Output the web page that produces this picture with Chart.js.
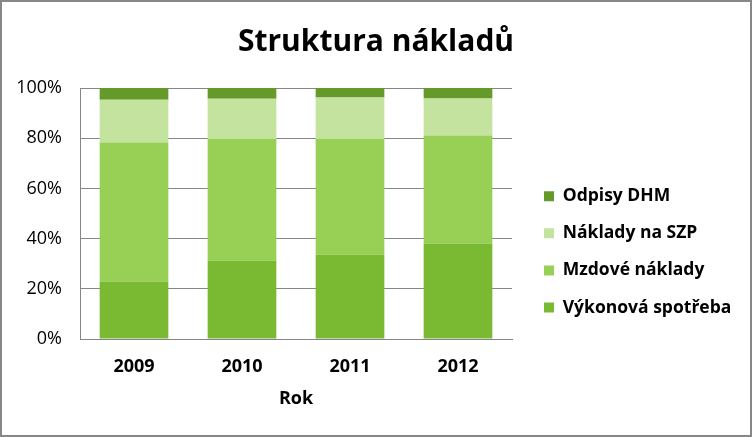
<!DOCTYPE html>
<html>
<head>
<meta charset="utf-8">
<script src="https://cdn.jsdelivr.net/npm/chart.js@4.4.1/dist/chart.umd.min.js"></script>
<style>
  html, body { margin: 0; padding: 0; background: #ffffff; }
  #wrap { width: 752px; height: 437px; }
</style>
</head>
<body>
<div id="wrap"><canvas id="c" width="752" height="437"></canvas></div>
<script>
// ---- data ----
const years = ['2009', '2010', '2011', '2012'];
const vykonovaSpotreba = [22.9, 31.2, 33.6, 38.0];
const mzdoveNaklady    = [55.4, 48.5, 46.1, 43.1];
const nakladyNaSZP     = [17.0, 16.0, 16.5, 14.7];
const odpisyDHM        = [4.7, 4.3, 3.8, 4.2];
const yTicks = [0, 20, 40, 60, 80, 100];

const seriesNames = ['Výkonová spotřeba', 'Mzdové náklady', 'Náklady na SZP', 'Odpisy DHM'];
const seriesColors = ['#7ab932', '#98d055', '#c3e39f', '#659a2b'];

Chart.defaults.font.family = "'Open Sans', sans-serif";
Chart.defaults.color = '#000000';

const GRID = '#868686';

// legend placement (Excel puts it at a fixed spot)
const LEGEND_COLUMN_WIDTH = 240;
const LEGEND_BOX_X = 544;
const LEGEND_FIRST_ROW_TOP = 187.5;

const placeLegend = {
  id: 'placeLegend',
  beforeLayout(chart) {
    const lg = chart.legend;
    if (lg && !lg._fixedFit) {
      const origFit = lg.fit.bind(lg);
      lg.fit = function () {
        origFit();
        this.width = LEGEND_COLUMN_WIDTH;
      };
      lg._fixedFit = true;
    }
  },
  afterLayout(chart) {
    const lg = chart.legend;
    if (!lg) return;
    const pad = chart.options.plugins.legend.labels.padding;
    lg.left = LEGEND_BOX_X - pad;
    lg.right = chart.width;
    lg.width = lg.right - lg.left;
    lg.top = LEGEND_FIRST_ROW_TOP - pad;
    lg.bottom = chart.height;
    lg.height = lg.bottom - lg.top;
  }
};

const frame = {
  id: 'frame',
  beforeDraw(chart) {
    const ctx = chart.ctx;
    ctx.save();
    ctx.fillStyle = '#ffffff';
    ctx.fillRect(0, 0, chart.width, chart.height);
    ctx.restore();
  },
  afterDraw(chart) {
    const ctx = chart.ctx;
    ctx.save();
    ctx.strokeStyle = '#878787';
    ctx.lineWidth = 2;
    ctx.strokeRect(1, 1, chart.width - 2, chart.height - 2);
    ctx.restore();
  }
};

const seriesData = [vykonovaSpotreba, mzdoveNaklady, nakladyNaSZP, odpisyDHM];

new Chart(document.getElementById('c'), {
  type: 'bar',
  data: {
    labels: years,
    datasets: seriesData.map((d, i) => ({
      label: seriesNames[i],
      data: d,
      backgroundColor: seriesColors[i],
      borderWidth: 0,
      categoryPercentage: 1.0,
      barPercentage: 0.636
    }))
  },
  options: {
    responsive: false,
    animation: false,
    devicePixelRatio: 1,
    layout: { padding: { left: 0, right: 0, top: 0, bottom: 0 } },
    plugins: {
      title: {
        display: true,
        text: 'Struktura nákladů',
        font: { size: 30, weight: 'bold' },
        color: '#000000',
        padding: { top: 24, bottom: 28 }
      },
      legend: {
        display: true,
        position: 'right',
        align: 'start',
        reverse: true,
        labels: {
          boxWidth: 10,
          boxHeight: 10,
          padding: 19.6,
          font: { size: 17.5, weight: 'bold' },
          color: '#000000'
        }
      },
      tooltip: { enabled: false }
    },
    scales: {
      x: {
        stacked: true,
        afterFit(scale) { scale.height = 98; },
        grid: { display: false, drawTicks: false },
        border: { display: true, color: GRID, width: 1 },
        ticks: { padding: 17, font: { size: 18, weight: 'bold' }, color: '#000000' },
        title: {
          display: true,
          text: 'Rok',
          font: { size: 18, weight: 'bold' },
          color: '#000000',
          padding: { top: 0, bottom: 27 }
        }
      },
      y: {
        stacked: true,
        min: 0,
        max: 100,
        afterFit(scale) { scale.width = 80; },
        afterBuildTicks(scale) { scale.ticks = yTicks.map(v => ({ value: v })); },
        grid: { color: GRID, lineWidth: 1, drawTicks: false },
        border: { display: true, color: GRID, width: 1 },
        ticks: {
          padding: 18,
          font: { size: 18 },
          color: '#000000',
          callback: v => v + '%'
        }
      }
    }
  },
  plugins: [frame, placeLegend]
});
</script>
</body>
</html>
